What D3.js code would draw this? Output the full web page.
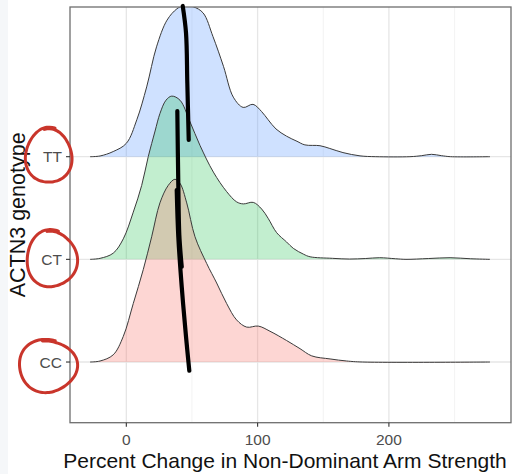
<!DOCTYPE html>
<html>
<head>
<meta charset="utf-8">
<script src="https://cdn.jsdelivr.net/npm/d3@7"></script>
<style>
  html, body { margin: 0; padding: 0; background: #ffffff; }
  svg { display: block; font-family: "Liberation Sans", Arial, Helvetica, sans-serif; }
</style>
</head>
<body>
<svg id="chart" width="512" height="474"></svg>
<script>
// ---------------- DATA ----------------
const genotypes = ["CC", "CT", "TT"];          // bottom -> top
const xTicks = [0, 100, 200];
const xMinorTicks = [50, 150, 250];

// density curves (x in % change, height in ridge-row units)
const ttX = [-27.6, -20, -10, 0, 8, 15.5, 23, 31, 38.5, 43.5, 51, 58.5, 66, 74, 81.5, 89, 96.5, 103, 108, 114, 122, 130, 136, 147.5, 155, 165, 178, 190, 216, 225, 232.5, 240, 247, 277];
const ttH = [0, 0.007, 0.05, 0.13, 0.36, 0.68, 1.07, 1.33, 1.44, 1.47, 1.46, 1.40, 1.17, 0.88, 0.58, 0.48, 0.51, 0.44, 0.36, 0.27, 0.20, 0.15, 0.115, 0.107, 0.08, 0.04, 0.008, 0, 0, 0.01, 0.023, 0.01, 0, 0];

const ctX = [-27.6, -20, -10, -2.3, 5.3, 11.7, 16.7, 21.9, 25.6, 30.2, 34.6, 40.9, 48.5, 56.1, 66.3, 76.4, 84, 89.1, 96.7, 103.1, 108, 114.5, 122, 127.2, 135, 140, 157, 170, 182, 193, 205, 213, 230, 246.6, 262, 277];
const ctH = [0, 0.01, 0.06, 0.20, 0.46, 0.72, 1.00, 1.25, 1.42, 1.55, 1.59, 1.55, 1.34, 1.11, 0.85, 0.66, 0.56, 0.54, 0.555, 0.49, 0.40, 0.26, 0.17, 0.107, 0.05, 0.025, 0.01, 0.003, 0.008, 0.016, 0.006, 0, 0.008, 0.016, 0.006, 0];

const ccX = [-27.6, -20, -10, -2.3, 5.3, 12.9, 19.3, 25.6, 31.9, 37, 40.9, 46, 52.3, 61.2, 68.8, 76.4, 84, 91.7, 100.5, 109.4, 122, 132.3, 141.2, 155.2, 167.8, 180, 277];
const ccH = [0, 0.01, 0.07, 0.25, 0.57, 0.90, 1.22, 1.55, 1.72, 1.78, 1.74, 1.55, 1.22, 0.96, 0.77, 0.57, 0.41, 0.34, 0.35, 0.30, 0.21, 0.13, 0.06, 0.03, 0.01, 0, 0];

const ridgeColors = { TT: "#619CFF", CT: "#00BA38", CC: "#F8766D" };
const ridgeAlpha = { TT: 0.3, CT: 0.24, CC: 0.3 };

// hand-drawn annotations (x in data units, y in row positions)
const blackStrokes = [
  [[42.96, 4.468], [45.47, 4.205], [46.46, 3.718], [47.53, 3.163]],
  [[38.85, 3.445], [39.6, 2.724], [40.37, 2.237], [42.2, 1.928]],
  [[38.39, 2.675], [39.6, 2.220], [42.2, 1.733], [45.47, 1.246], [47.98, 0.915]]
];
const redCircles = [
  { x: -58.9, y: 3.007, rx: 24, ry: 28 },
  { x: -56.6, y: 2.003, rx: 26, ry: 29 },
  { x: -59.6, y: 0.961, rx: 30, ry: 27 }
];

// ---------------- LAYOUT ----------------
const W = 512, H = 474;
const panel = { left: 70, right: 511, top: 7, bottom: 422.7 };

const svg = d3.select("#chart");

// light strip on the far left (screenshot edge)
svg.append("rect").attr("x", 0).attr("y", 0).attr("width", 8).attr("height", H).attr("fill", "#f5f7f9");

const x = d3.scaleLinear().domain([-42.9, 293]).range([panel.left, panel.right]);
const y = d3.scaleLinear().domain([0.409, 4.458]).range([panel.bottom, panel.top]);
const rowPos = d => genotypes.indexOf(d) + 1;

const clipId = "panelclip";
svg.append("clipPath").attr("id", clipId).append("rect")
  .attr("x", panel.left).attr("y", panel.top)
  .attr("width", panel.right - panel.left).attr("height", panel.bottom - panel.top);

const grid = svg.append("g");
grid.selectAll("line.minor").data(xMinorTicks).join("line")
  .attr("x1", d => x(d)).attr("x2", d => x(d))
  .attr("y1", panel.top).attr("y2", panel.bottom)
  .attr("stroke", "#f0f0f0").attr("stroke-width", 0.8);
grid.selectAll("line.major").data(xTicks).join("line")
  .attr("x1", d => x(d)).attr("x2", d => x(d))
  .attr("y1", panel.top).attr("y2", panel.bottom)
  .attr("stroke", "#e6e6e6").attr("stroke-width", 1.3);
grid.selectAll("line.h").data(genotypes).join("line")
  .attr("x1", panel.left).attr("x2", panel.right)
  .attr("y1", d => y(rowPos(d))).attr("y2", d => y(rowPos(d)))
  .attr("stroke", "#e6e6e6").attr("stroke-width", 1.3);

// ---------------- RIDGES ----------------
const series = [
  { g: "TT", xs: ttX, hs: ttH },
  { g: "CT", xs: ctX, hs: ctH },
  { g: "CC", xs: ccX, hs: ccH }
];

const ridges = svg.append("g").attr("clip-path", `url(#${clipId})`);
series.forEach(s => {
  const base = rowPos(s.g);
  const pts = s.xs.map((v, i) => ({ x: v, h: s.hs[i] }));
  const area = d3.area()
    .x(d => x(d.x))
    .y0(y(base))
    .y1(d => Math.min(y(base), y(base + d.h)))
    .curve(d3.curveCatmullRom.alpha(0.5));
  const line = d3.line()
    .x(d => x(d.x))
    .y(d => y(base + d.h))
    .curve(d3.curveCatmullRom.alpha(0.5));
  ridges.append("path").datum(pts)
    .attr("d", area)
    .attr("fill", ridgeColors[s.g]).attr("fill-opacity", ridgeAlpha[s.g]);
  ridges.append("path").datum(pts)
    .attr("d", line)
    .attr("fill", "none").attr("stroke", "#3a3a3a").attr("stroke-width", 1);
});

// panel border
svg.append("rect")
  .attr("x", panel.left).attr("y", panel.top)
  .attr("width", panel.right - panel.left).attr("height", panel.bottom - panel.top)
  .attr("fill", "none").attr("stroke", "#6e6e6e").attr("stroke-width", 1.3);

// ---------------- AXES ----------------
const xAxis = svg.append("g");
xAxis.selectAll("line").data(xTicks).join("line")
  .attr("x1", d => x(d)).attr("x2", d => x(d))
  .attr("y1", panel.bottom).attr("y2", panel.bottom + 4)
  .attr("stroke", "#333").attr("stroke-width", 1.1);
xAxis.selectAll("text").data(xTicks).join("text")
  .attr("x", d => x(d)).attr("y", 445)
  .attr("text-anchor", "middle")
  .attr("font-size", 15.5).attr("fill", "#4d4d4d")
  .text(d => d);

const yAxis = svg.append("g");
yAxis.selectAll("line").data(genotypes).join("line")
  .attr("x1", panel.left - 4).attr("x2", panel.left)
  .attr("y1", d => y(rowPos(d))).attr("y2", d => y(rowPos(d)))
  .attr("stroke", "#333").attr("stroke-width", 1.1);
yAxis.selectAll("text").data(genotypes).join("text")
  .attr("x", panel.left - 8).attr("y", d => y(rowPos(d)))
  .attr("dy", "0.36em")
  .attr("text-anchor", "end")
  .attr("font-size", 15.5).attr("fill", "#4d4d4d")
  .text(d => d);

svg.append("text")
  .attr("x", 285).attr("y", 468)
  .attr("text-anchor", "middle").attr("font-size", 21).attr("fill", "#111")
  .text("Percent Change in Non-Dominant Arm Strength");

svg.append("text")
  .attr("transform", `translate(25, ${(panel.top + panel.bottom) / 2}) rotate(-90)`)
  .attr("text-anchor", "middle").attr("font-size", 21.5).attr("fill", "#111")
  .text("ACTN3 genotype");

// ---------------- ANNOTATIONS ----------------
const ann = svg.append("g");
const strokeLine = d3.line().x(d => x(d[0])).y(d => y(d[1])).curve(d3.curveCatmullRom);
blackStrokes.forEach(pts => {
  ann.append("path").attr("d", strokeLine(pts))
    .attr("fill", "none").attr("stroke", "#000").attr("stroke-width", 4.2)
    .attr("stroke-linecap", "round");
});

redCircles.forEach((c, k) => {
  const cx = x(c.x), cy = y(c.y);
  const n = 60;
  const start = -Math.PI / 2 + 0.25;
  const sweep = 2 * Math.PI + 0.45;
  const pts = d3.range(n + 1).map(i => {
    const t = start - sweep * i / n;
    const wob = 1 + 0.035 * Math.sin(3 * t + k) - 0.06 * (i / n);
    return [cx + c.rx * wob * Math.cos(t), cy + c.ry * wob * Math.sin(t)];
  });
  ann.append("path").attr("d", d3.line().curve(d3.curveBasis)(pts))
    .attr("fill", "none").attr("stroke", "#c9352b").attr("stroke-width", 3)
    .attr("stroke-linecap", "round");
});
</script>
</body>
</html>
